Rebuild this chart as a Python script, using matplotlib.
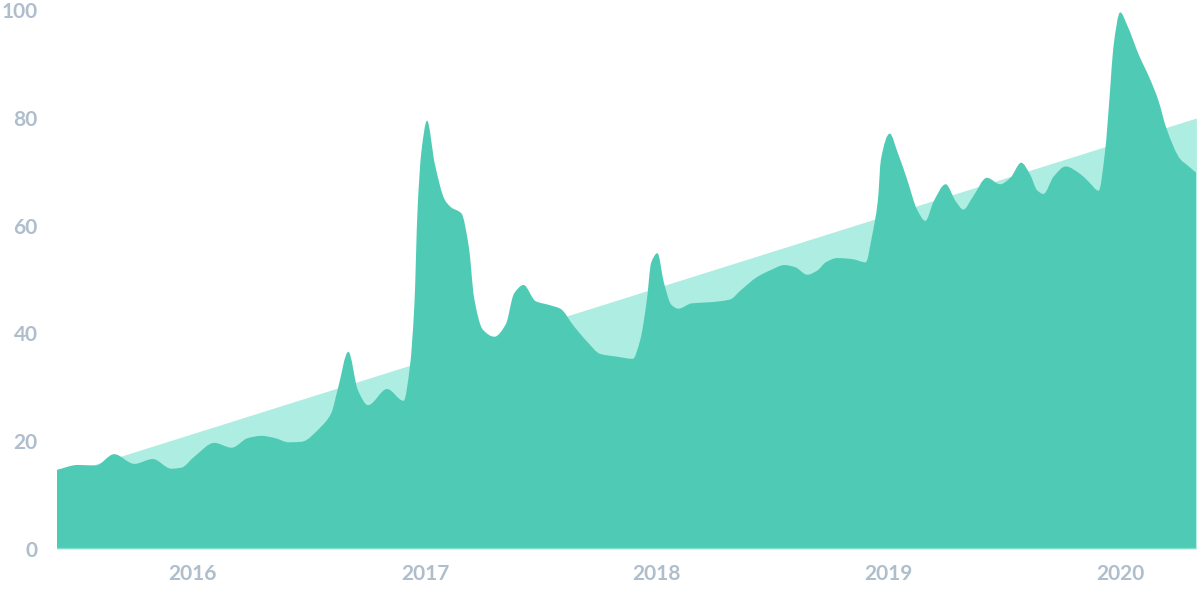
import numpy as np
import pandas as pd
import matplotlib
matplotlib.use("Agg")
import matplotlib.pyplot as plt
import matplotlib.dates as mdates
from matplotlib.path import Path
from matplotlib.patches import PathPatch

# values
dates = ['2015-06-01', '2015-07-04', '2015-08-01', '2015-08-30', '2015-10-01', '2015-10-30',
         '2015-11-28', '2015-12-14', '2016-01-03', '2016-02-04', '2016-03-02', '2016-03-28',
         '2016-04-18', '2016-05-09', '2016-05-31', '2016-06-20', '2016-07-21', '2016-08-06',
         '2016-08-16', '2016-09-02', '2016-09-17', '2016-10-03', '2016-11-02', '2016-11-28',
         '2016-12-08', '2016-12-15', '2016-12-20', '2016-12-26', '2017-01-04', '2017-01-16',
         '2017-02-01', '2017-02-11', '2017-02-27', '2017-03-11', '2017-03-19', '2017-04-02',
         '2017-04-20', '2017-05-08', '2017-05-21', '2017-06-05', '2017-06-24', '2017-07-15',
         '2017-08-02', '2017-08-23', '2017-09-13', '2017-10-04', '2017-10-30', '2017-11-24',
         '2017-12-06', '2017-12-16', '2017-12-23', '2018-01-02', '2018-01-12', '2018-01-24',
         '2018-02-04', '2018-02-25', '2018-03-26', '2018-04-26', '2018-05-14', '2018-06-07',
         '2018-06-30', '2018-07-21', '2018-08-07', '2018-08-26', '2018-09-11', '2018-09-24',
         '2018-10-12', '2018-11-05', '2018-11-26', '2018-12-06', '2018-12-15', '2018-12-20',
         '2019-01-03', '2019-01-15', '2019-01-30', '2019-02-15', '2019-02-28', '2019-03-13',
         '2019-04-01', '2019-04-17', '2019-04-29', '2019-05-13', '2019-06-05', '2019-06-26',
         '2019-07-12', '2019-07-29', '2019-08-12', '2019-08-23', '2019-09-02', '2019-09-18',
         '2019-10-07', '2019-10-30', '2019-11-12', '2019-11-28', '2019-12-08', '2019-12-16',
         '2019-12-21', '2020-01-01', '2020-01-12', '2020-01-30', '2020-02-17', '2020-03-01',
         '2020-03-14', '2020-04-05', '2020-04-16', '2020-04-30']
values = [14.7, 15.6, 15.5, 17.6, 15.8, 16.7,
          14.9, 15.1, 17.1, 19.7, 18.8, 20.6,
          21.0, 20.6, 19.8, 19.9, 22.7, 25.2,
          29.5, 36.6, 29.5, 26.7, 29.7, 27.5,
          33.9, 45.3, 63.0, 73.7, 79.5, 71.6,
          64.8, 63.4, 62.3, 55.9, 46.7, 40.7,
          39.4, 41.7, 47.4, 49.0, 46.0, 45.3,
          44.6, 41.4, 38.5, 36.2, 35.7, 35.3,
          38.9, 46.0, 53.1, 54.9, 49.5, 45.3,
          44.6, 45.6, 45.8, 46.3, 48.1, 50.4,
          51.8, 52.7, 52.3, 50.9, 51.7, 53.2,
          54.0, 53.8, 53.2, 58.1, 64.5, 72.3,
          77.1, 73.7, 68.7, 63.0, 60.9, 64.5,
          67.7, 64.5, 63.0, 65.2, 68.9, 67.7,
          68.9, 71.7, 69.5, 66.6, 65.9, 69.1,
          71.0, 69.6, 68.2, 66.5, 73.7, 85.1,
          92.9, 99.6, 97.2, 91.8, 87.2, 83.3,
          78.0, 72.3, 71.2, 69.8]

trend_dates = ['2015-06-01', '2020-04-30']
trend_values = [13.5, 80.0]

y_ticks = [0, 20, 40, 60, 80, 100]

dark = '#4fcbb5'
light = '#aeede1'
label_color = '#afbecc'


def smooth_area(xs, ys):
    # monotone cubic curve through the points, closed down to zero
    xs = np.asarray(xs, dtype=float)
    ys = np.asarray(ys, dtype=float)
    h = np.diff(xs)
    d = np.diff(ys) / h
    m = np.zeros(len(xs))
    m[0] = d[0]
    m[-1] = d[-1]
    for i in range(1, len(xs) - 1):
        if d[i - 1] * d[i] <= 0:
            m[i] = 0
        else:
            w1 = 2 * h[i] + h[i - 1]
            w2 = h[i] + 2 * h[i - 1]
            m[i] = (w1 + w2) / (w1 / d[i - 1] + w2 / d[i])
    verts = [(xs[0], 0), (xs[0], ys[0])]
    codes = [Path.MOVETO, Path.LINETO]
    for i in range(len(xs) - 1):
        verts += [(xs[i] + h[i] / 3, ys[i] + m[i] * h[i] / 3),
                  (xs[i + 1] - h[i] / 3, ys[i + 1] - m[i + 1] * h[i] / 3),
                  (xs[i + 1], ys[i + 1])]
        codes += [Path.CURVE4] * 3
    verts += [(xs[-1], 0), (xs[0], 0)]
    codes += [Path.LINETO, Path.CLOSEPOLY]
    return Path(verts, codes)


x = mdates.date2num(pd.to_datetime(dates))
tx = pd.to_datetime(trend_dates)

fig = plt.figure(figsize=(12, 6), dpi=100)
ax = fig.add_axes([0.0475, 0.085, 0.9495, 0.898])

ax.fill_between(tx, 0, trend_values, color=light, linewidth=0)
ax.add_patch(PathPatch(smooth_area(x, values), facecolor=dark, edgecolor='none'))
ax.axhline(0, color='#7fdccb', linewidth=2.5)

ax.set_xlim(x[0], x[-1])
ax.set_ylim(0, 100)
ax.set_yticks(y_ticks)
ax.xaxis.set_major_locator(mdates.YearLocator())
ax.xaxis.set_major_formatter(mdates.DateFormatter('%Y'))

for s in ax.spines.values():
    s.set_visible(False)
ax.tick_params(length=0, colors=label_color, labelsize=15)
ax.tick_params(axis='y', pad=14)
ax.tick_params(axis='x', pad=11)
for lab in ax.get_xticklabels() + ax.get_yticklabels():
    lab.set_fontfamily('Lato')
    lab.set_fontweight('bold')

plt.savefig('out.png', dpi=100)
